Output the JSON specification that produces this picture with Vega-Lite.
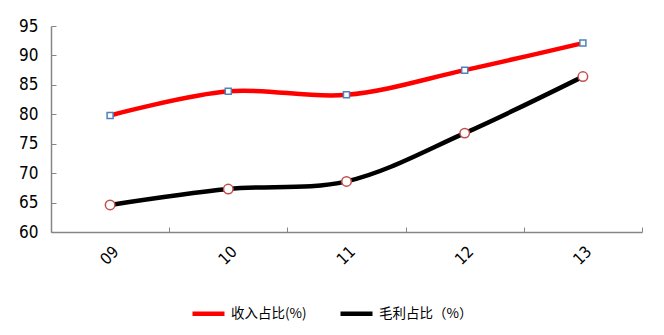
{
  "$schema": "https://vega.github.io/schema/vega-lite/v6.json",
  "autosize": "none",
  "width": 591,
  "height": 206,
  "padding": {"left": 51, "top": 26, "right": 22, "bottom": 103},
  "background": "white",
  "config": {
    "view": {"stroke": null},
    "axis": {
      "labelFont": "Liberation Sans Narrow, DejaVu Sans Condensed, sans-serif",
      "labelColor": "#000000",
      "domainColor": "#868686",
      "domainWidth": 1.5,
      "tickColor": "#868686",
      "grid": false,
      "title": null
    }
  },
  "data": {
    "values": [
      {"year": "09", "series": "收入占比(%)", "value": 79.8},
      {"year": "10", "series": "收入占比(%)", "value": 83.9},
      {"year": "11", "series": "收入占比(%)", "value": 83.3},
      {"year": "12", "series": "收入占比(%)", "value": 87.5},
      {"year": "13", "series": "收入占比(%)", "value": 92.1},
      {"year": "09", "series": "毛利占比（%）", "value": 64.6},
      {"year": "10", "series": "毛利占比（%）", "value": 67.3},
      {"year": "11", "series": "毛利占比（%）", "value": 68.6},
      {"year": "12", "series": "毛利占比（%）", "value": 76.8},
      {"year": "13", "series": "毛利占比（%）", "value": 86.4}
    ]
  },
  "encoding": {
    "x": {
      "field": "year",
      "type": "nominal",
      "sort": null,
      "scale": {"type": "band", "paddingInner": 0, "paddingOuter": 0},
      "axis": {
        "labelAngle": -45,
        "labelFontSize": 16,
        "tickBand": "extent",
        "tickSize": -5,
        "labelPadding": 16
      }
    },
    "y": {
      "field": "value",
      "type": "quantitative",
      "scale": {"domain": [60, 95], "nice": false, "zero": false},
      "axis": {
        "values": [60, 65, 70, 75, 80, 85, 90, 95],
        "labelFontSize": 17,
        "tickSize": -5,
        "labelPadding": 18
      }
    }
  },
  "layer": [
    {
      "mark": {"type": "line", "interpolate": "catmull-rom", "strokeWidth": 4.5},
      "encoding": {
        "color": {
          "field": "series",
          "type": "nominal",
          "scale": {"domain": ["收入占比(%)", "毛利占比（%）"], "range": ["#FF0000", "#000000"]},
          "legend": {
            "orient": "none",
            "legendX": 139,
            "legendY": 269,
            "direction": "horizontal",
            "title": null,
            "symbolType": "stroke",
            "symbolSize": 1024,
            "symbolStrokeWidth": 4.5,
            "labelFont": "Noto Sans CJK SC",
            "labelFontSize": 13.5,
            "labelColor": "#000000",
            "columnPadding": 24,
            "labelOffset": 4
          }
        }
      }
    },
    {
      "mark": {"type": "point", "filled": false, "fill": "white", "fillOpacity": 1, "strokeWidth": 1.5, "opacity": 1},
      "encoding": {
        "shape": {
          "field": "series",
          "type": "nominal",
          "scale": {"domain": ["收入占比(%)", "毛利占比（%）"], "range": ["square", "circle"]},
          "legend": null
        },
        "stroke": {
          "field": "series",
          "type": "nominal",
          "scale": {"domain": ["收入占比(%)", "毛利占比（%）"], "range": ["#4F81BD", "#C0504D"]},
          "legend": null
        },
        "size": {
          "field": "series",
          "type": "nominal",
          "scale": {"domain": ["收入占比(%)", "毛利占比（%）"], "range": [36, 90]},
          "legend": null
        }
      }
    }
  ],
  "resolve": {"scale": {"color": "independent", "stroke": "independent"}}
}
